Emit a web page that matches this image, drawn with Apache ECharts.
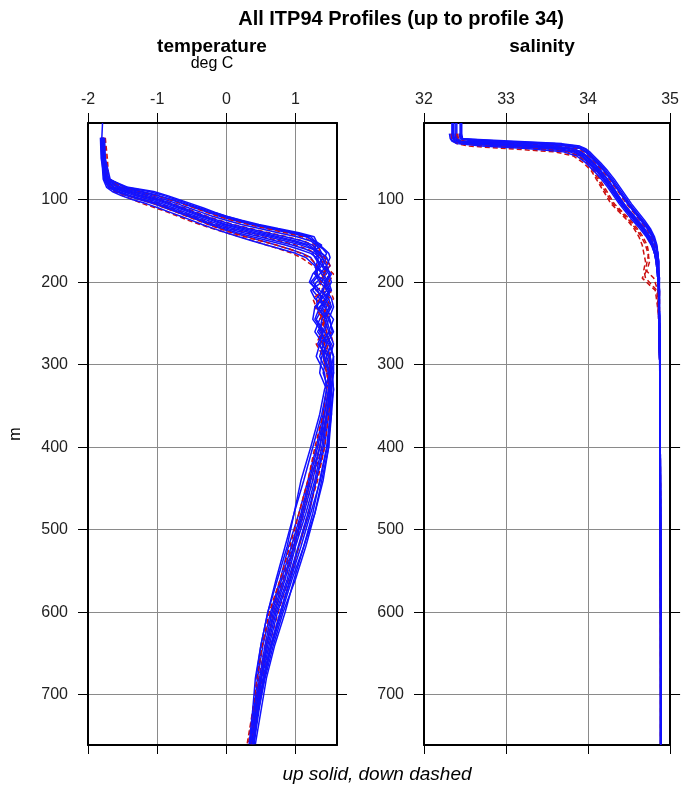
<!DOCTYPE html>
<html><head><meta charset="utf-8">
<script src="https://cdn.jsdelivr.net/npm/echarts@6/dist/echarts.min.js"></script>
<style>html,body{margin:0;padding:0;background:#fff}#c{width:682px;height:792px}</style>
</head><body><div id="c"></div>
<script>
// ---------- data ----------
var depthT = [7,25,50,75,85,90,95,100,105,110,115,120,125,130,135,140,145,150,155,160,165,170,180,190,200,210,220,230,245,260,275,290,310,330,360,400,440,480,520,560,600,640,680,720,760];
var depthS = [7,20,26,29,32,35,38,42,47,55,65,75,85,95,105,115,125,135,145,155,165,175,185,195,210,240,280,320,400,500,600,700,760];
var tempTicks = [-2,-1,0,1];
var salTicks = [32,33,34,35];
var depthTicks = [100,200,300,400,500,600,700];

var tempUp = [
 [null,-1.80,-1.79,-1.70,-1.42,-1.05,-0.85,-0.68,-0.50,-0.33,-0.17,0.00,0.22,0.47,0.75,1.05,1.27,1.30,1.32,1.40,1.45,1.42,1.38,1.45,1.30,1.25,1.35,1.48,1.42,1.32,1.45,1.50,1.48,1.52,1.48,1.42,1.30,1.20,1.05,0.92,0.78,0.65,0.55,0.47,0.40],
 [null,-1.78,-1.77,-1.72,-1.52,-1.25,-1.00,-0.80,-0.62,-0.45,-0.28,-0.10,0.10,0.35,0.60,0.90,1.15,1.28,1.30,1.35,1.38,1.45,1.50,1.40,1.48,1.52,1.42,1.38,1.50,1.53,1.40,1.45,1.52,1.55,1.50,1.45,1.35,1.25,1.12,0.98,0.85,0.70,0.58,0.50,0.42],
 [-1.79,-1.80,-1.80,-1.74,-1.62,-1.42,-1.22,-0.99,-0.82,-0.66,-0.50,-0.34,-0.17,0.00,0.25,0.50,0.75,1.00,1.20,1.28,1.30,1.33,1.30,1.42,1.38,1.22,1.28,1.45,1.35,1.28,1.40,1.35,1.46,1.50,1.45,1.35,1.22,1.10,0.97,0.83,0.68,0.58,0.50,0.42,0.36],
 [null,-1.82,-1.81,-1.76,-1.66,-1.50,-1.32,-1.10,-0.92,-0.76,-0.60,-0.44,-0.27,-0.10,0.10,0.35,0.60,0.85,1.08,1.25,1.32,1.38,1.45,1.35,1.25,1.35,1.48,1.40,1.30,1.42,1.52,1.45,1.40,1.48,1.52,1.48,1.40,1.28,1.15,1.00,0.82,0.68,0.56,0.46,0.38],
 [null,-1.79,-1.78,-1.77,-1.70,-1.60,-1.45,-1.25,-1.05,-0.88,-0.72,-0.56,-0.40,-0.25,-0.08,0.10,0.30,0.52,0.72,0.92,1.10,1.22,1.30,1.38,1.45,1.40,1.30,1.32,1.45,1.50,1.35,1.30,1.42,1.45,1.40,1.30,1.18,1.05,0.90,0.78,0.64,0.53,0.45,0.40,0.34],
 [null,-1.81,-1.80,-1.78,-1.73,-1.65,-1.52,-1.35,-1.15,-0.98,-0.82,-0.66,-0.50,-0.35,-0.18,0.00,0.18,0.38,0.58,0.80,1.00,1.15,1.28,1.32,1.22,1.30,1.42,1.50,1.38,1.35,1.48,1.55,1.50,1.42,1.35,1.22,1.08,0.98,0.85,0.72,0.60,0.50,0.43,null,null],
 [null,-1.76,-1.75,-1.68,-1.48,-1.22,-0.98,-0.78,-0.60,-0.42,-0.25,-0.05,0.15,0.40,0.68,0.95,1.18,1.25,1.35,1.42,1.48,1.50,1.45,1.50,1.42,1.45,1.52,1.55,1.48,1.42,1.50,1.55,1.55,1.52,1.50,1.48,1.38,1.28,1.12,0.95,0.80,0.66,0.54,0.45,0.40],
 [null,-1.80,-1.78,-1.73,-1.58,-1.38,-1.15,-0.95,-0.78,-0.62,-0.46,-0.30,-0.12,0.08,0.32,0.58,0.85,1.10,1.25,1.30,1.25,1.28,1.35,1.25,1.20,1.32,1.38,1.28,1.25,1.38,1.45,1.38,1.35,1.45,1.38,1.25,1.12,0.98,0.88,0.74,0.60,0.50,0.42,0.38,0.33],
 [null,-1.79,-1.79,-1.75,-1.68,-1.55,-1.38,-1.18,-0.98,-0.82,-0.66,-0.50,-0.34,-0.18,0.02,0.25,0.48,0.72,0.95,1.15,1.28,1.35,1.40,1.48,1.52,1.45,1.35,1.42,1.55,1.48,1.38,1.50,1.55,1.50,1.45,1.38,1.28,1.15,1.00,0.88,0.72,0.60,0.50,0.43,0.37],
 [null,-1.78,-1.77,-1.70,-1.45,-1.12,-0.90,-0.72,-0.55,-0.38,-0.20,0.00,0.20,0.42,0.70,1.00,1.22,1.28,1.38,1.30,1.35,1.40,1.32,1.28,1.35,1.48,1.45,1.35,1.28,1.40,1.35,1.42,1.50,1.48,1.42,1.35,1.25,1.12,0.98,0.85,0.70,0.58,0.50,0.44,0.38],
 [null,-1.81,-1.80,-1.75,-1.64,-1.46,-1.26,-1.04,-0.86,-0.70,-0.54,-0.38,-0.21,-0.04,0.18,0.42,0.68,0.94,1.15,1.26,1.35,1.30,1.38,1.28,1.45,1.50,1.38,1.30,1.45,1.40,1.32,1.48,1.52,1.48,1.42,1.32,1.20,1.08,0.94,0.80,0.66,0.56,0.48,0.41,0.35],
 [null,-1.77,-1.76,-1.71,-1.55,-1.32,-1.08,-0.88,-0.70,-0.54,-0.37,-0.20,0.00,0.22,0.48,0.75,1.02,1.22,1.30,1.28,1.38,1.45,1.40,1.52,1.45,1.38,1.48,1.52,1.42,1.48,1.55,1.50,1.53,1.55,1.52,1.46,1.36,1.22,1.08,0.93,0.78,0.64,0.53,0.46,0.39],
 [null,-1.80,-1.79,-1.77,-1.70,-1.58,-1.42,-1.22,-1.02,-0.86,-0.70,-0.54,-0.38,-0.22,-0.04,0.16,0.38,0.62,0.85,1.05,1.22,1.30,1.35,1.28,1.40,1.50,1.45,1.35,1.48,1.55,1.45,1.40,1.48,1.52,1.46,1.40,1.30,1.18,1.04,0.90,0.74,0.62,0.51,0.44,0.38]
];
var tempDown = [
 [null,-1.78,-1.77,-1.75,-1.70,-1.62,-1.50,-1.35,-1.20,-1.02,-0.85,-0.70,-0.55,-0.38,-0.20,0.00,0.20,0.40,0.58,0.78,0.95,1.08,1.25,1.45,1.50,1.40,1.25,1.30,1.42,1.38,1.30,1.40,1.45,1.50,1.45,1.35,1.22,1.10,0.95,0.80,0.65,0.52,0.45,0.38,0.30],
 [null,-1.76,-1.74,-1.72,-1.62,-1.48,-1.30,-1.12,-0.95,-0.80,-0.64,-0.48,-0.32,-0.15,0.05,0.28,0.52,0.78,1.00,1.18,1.28,1.35,1.42,1.55,1.48,1.30,1.38,1.50,1.45,1.35,1.42,1.48,1.52,1.48,1.42,1.32,1.20,1.08,0.95,0.82,0.66,0.56,0.47,0.40,0.35],
 [null,-1.75,-1.72,-1.70,-1.56,-1.36,-1.14,-0.94,-0.76,-0.60,-0.44,-0.28,-0.10,0.10,0.35,0.62,0.88,1.12,1.25,1.30,1.35,1.42,1.50,1.38,1.42,1.50,1.55,1.45,1.38,1.50,1.55,1.48,1.50,1.52,1.48,1.42,1.32,1.18,1.05,0.90,0.75,0.62,0.52,0.45,0.38],
 [null,-1.77,-1.76,-1.69,-1.50,-1.25,-1.02,-0.82,-0.64,-0.46,-0.30,-0.12,0.08,0.32,0.58,0.85,1.10,1.22,1.28,1.35,1.32,1.40,1.48,1.42,1.35,1.40,1.50,1.45,1.35,1.45,1.48,1.40,1.45,1.50,1.45,1.38,1.25,1.12,1.00,0.85,0.70,0.58,0.48,0.42,0.36],
 [null,-1.78,-1.77,-1.74,-1.68,-1.58,-1.42,-1.22,-1.04,-0.88,-0.72,-0.57,-0.42,-0.26,-0.10,0.08,0.28,0.50,0.72,0.92,1.08,1.20,1.32,1.30,1.38,1.45,1.35,1.28,1.40,1.45,1.35,1.42,1.48,1.45,1.40,1.28,1.18,1.05,0.92,0.78,0.62,0.52,0.44,0.38,0.32]
];
var salUp = [
 [32.46,32.46,32.47,33.10,33.68,33.90,33.97,34.02,34.07,34.15,34.24,34.32,34.39,34.46,34.53,34.61,34.69,34.76,34.81,34.84,34.85,34.86,34.86,34.86,34.87,34.86,34.87,34.88,34.88,34.88,34.885,34.885,34.885],
 [null,32.44,32.45,32.80,33.45,33.80,33.92,33.98,34.03,34.11,34.20,34.28,34.35,34.42,34.49,34.57,34.65,34.73,34.79,34.83,34.85,34.86,34.86,34.87,34.86,34.87,34.87,34.88,34.88,34.885,34.885,34.885,34.885],
 [32.40,32.40,32.41,32.45,33.00,33.55,33.82,33.92,33.99,34.07,34.16,34.24,34.31,34.37,34.44,34.52,34.60,34.68,34.75,34.79,34.82,34.84,34.85,34.855,34.86,34.865,34.87,34.875,34.88,34.882,34.884,34.885,34.885],
 [32.36,32.36,32.37,32.40,32.75,33.35,33.72,33.88,33.96,34.04,34.13,34.21,34.28,34.35,34.42,34.50,34.58,34.67,34.74,34.79,34.82,34.84,34.85,34.86,34.86,34.87,34.87,34.88,34.88,34.88,34.885,34.885,34.885],
 [null,32.33,32.33,32.35,32.45,32.90,33.45,33.78,33.90,34.00,34.10,34.18,34.26,34.33,34.40,34.48,34.56,34.65,34.72,34.78,34.81,34.83,34.84,34.85,34.86,34.87,34.87,34.88,34.88,34.883,34.884,34.885,34.885],
 [null,32.31,32.32,32.34,32.40,32.70,33.25,33.70,33.86,33.97,34.07,34.16,34.24,34.31,34.38,34.46,34.54,34.63,34.71,34.77,34.81,34.83,34.84,34.85,34.86,34.86,34.87,34.88,34.88,34.88,34.884,34.885,null],
 [32.45,32.45,32.46,32.95,33.60,33.86,33.95,34.00,34.05,34.13,34.22,34.30,34.37,34.44,34.51,34.59,34.67,34.75,34.80,34.83,34.85,34.86,34.86,34.87,34.87,34.87,34.88,34.88,34.88,34.885,34.885,34.885,34.885],
 [null,32.38,32.39,32.42,32.90,33.50,33.80,33.91,33.98,34.06,34.15,34.23,34.30,34.36,34.43,34.51,34.59,34.67,34.74,34.79,34.82,34.84,34.85,34.86,34.86,34.87,34.87,34.88,34.88,34.88,34.884,34.885,34.885],
 [32.35,32.35,32.36,32.38,32.60,33.20,33.65,33.85,33.94,34.02,34.12,34.20,34.27,34.34,34.41,34.49,34.57,34.66,34.73,34.78,34.82,34.84,34.85,34.86,34.86,34.87,34.87,34.88,34.88,34.883,34.885,34.885,34.885],
 [null,32.43,32.44,32.60,33.30,33.75,33.90,33.97,34.02,34.10,34.19,34.27,34.34,34.41,34.48,34.56,34.64,34.72,34.78,34.82,34.84,34.85,34.86,34.86,34.87,34.87,34.88,34.88,34.88,34.885,34.885,34.885,34.885],
 [32.38,32.38,32.39,32.43,32.95,33.52,33.80,33.91,33.98,34.06,34.15,34.23,34.30,34.37,34.44,34.52,34.61,34.69,34.76,34.80,34.83,34.85,34.85,34.86,34.86,34.87,34.87,34.88,34.88,34.884,34.885,34.885,34.885],
 [32.44,32.44,32.45,32.70,33.40,33.78,33.91,33.97,34.03,34.11,34.20,34.28,34.35,34.42,34.50,34.58,34.66,34.74,34.80,34.83,34.85,34.86,34.86,34.86,34.87,34.87,34.88,34.88,34.88,34.885,34.885,34.885,34.885],
 [32.34,32.34,32.35,32.37,32.50,33.05,33.55,33.82,33.92,34.01,34.11,34.19,34.26,34.33,34.40,34.48,34.57,34.66,34.73,34.78,34.81,34.83,34.84,34.85,34.86,34.86,34.87,34.88,34.88,34.883,34.884,34.885,34.885]
];
var salDown = [
 [null,32.34,32.35,32.36,32.40,32.55,33.00,33.60,33.82,33.94,34.04,34.10,34.16,34.22,34.28,34.38,34.48,34.56,34.62,34.66,34.68,34.70,34.68,34.70,34.84,34.86,34.87,34.88,34.88,34.88,34.884,34.885,34.885],
 [null,32.36,32.37,32.39,32.55,33.15,33.62,33.84,33.93,34.02,34.08,34.14,34.20,34.26,34.32,34.42,34.52,34.60,34.67,34.72,34.74,34.72,34.70,34.80,34.85,34.86,34.87,34.88,34.88,34.883,34.884,34.885,34.885],
 [null,32.39,32.40,32.43,32.85,33.45,33.78,33.90,33.97,34.05,34.14,34.22,34.29,34.36,34.43,34.51,34.59,34.67,34.74,34.79,34.81,34.83,34.84,34.85,34.86,34.86,34.87,34.88,34.88,34.88,34.884,34.885,34.885],
 [null,32.41,32.42,32.50,33.15,33.65,33.87,33.95,34.01,34.09,34.18,34.26,34.33,34.40,34.47,34.55,34.63,34.71,34.77,34.81,34.83,34.85,34.86,34.86,34.87,34.87,34.88,34.88,34.88,34.885,34.885,34.885,34.885],
 [null,32.33,32.34,32.36,32.45,32.80,33.35,33.75,33.88,33.98,34.06,34.12,34.18,34.24,34.30,34.40,34.50,34.58,34.65,34.70,34.73,34.75,34.72,34.66,34.82,34.86,34.87,34.88,34.88,34.88,34.884,34.885,34.885]
];

// ---------- chart ----------
var FONT = '"Liberation Sans", Arial, Helvetica, sans-serif';
var BLUE = '#1212ff', RED = '#cc1010', GRID = '#8a8a8a';
var G = [{left:88, top:123, width:249, height:622},{left:424, top:123, width:249, height:622}];

function pairs(vals, depths){
  var out = [];
  for (var i=0;i<depths.length;i++){ if (vals[i]!==null && vals[i]!==undefined) out.push([vals[i], depths[i]]); }
  return out;
}
function xAxes(gi, mn, mx, ticks){
  return [{
    gridIndex:gi, type:'value', position:'top', min:mn, max:mx,
    axisLine:{show:true, onZero:false, lineStyle:{color:'#000', width:2}},
    axisTick:{show:true, inside:false, length:10, customValues:ticks, lineStyle:{color:'#000', width:1}},
    axisLabel:{show:true, margin:15, fontSize:16, color:'#222', fontFamily:FONT, customValues:ticks},
    splitLine:{show:true, lineStyle:{color:GRID, width:1}}
  },{
    gridIndex:gi, type:'value', position:'bottom', min:mn, max:mx,
    axisLine:{show:true, onZero:false, lineStyle:{color:'#000', width:2}},
    axisTick:{show:true, inside:false, length:9, customValues:ticks, lineStyle:{color:'#000', width:1}},
    axisLabel:{show:false}, splitLine:{show:false}
  }];
}
function yAxes(gi, showLabels){
  return [{
    gridIndex:gi, type:'value', position:'left', inverse:true, min:7, max:761,
    axisLine:{show:true, onZero:false, lineStyle:{color:'#000', width:2}},
    axisTick:{show:true, inside:false, length:10, customValues:depthTicks, lineStyle:{color:'#000', width:1}},
    axisLabel:{show:showLabels, margin:20, fontSize:16, color:'#222', fontFamily:FONT, customValues:depthTicks},
    splitLine:{show:true, lineStyle:{color:GRID, width:1}}
  },{
    gridIndex:gi, type:'value', position:'right', inverse:true, min:7, max:761,
    axisLine:{show:true, onZero:false, lineStyle:{color:'#000', width:2}},
    axisTick:{show:true, inside:false, length:10, customValues:depthTicks, lineStyle:{color:'#000', width:1}},
    axisLabel:{show:false}, splitLine:{show:false}
  }];
}

var series = [];
function mk(p, depths, xi, yi, dashed){
  return {
    type:'line', xAxisIndex:xi, yAxisIndex:yi, data:pairs(p, depths),
    showSymbol:false, symbol:'none', clip:true, silent:true, z:3,
    lineStyle:{color: dashed ? RED : BLUE, width:1.5, type: dashed ? [5,3] : 'solid'}
  };
}
// interleave up (solid) and down (dashed) profiles, as drawn in time order
function addPanel(upList, downList, depths, xi, yi){
  var n = Math.max(upList.length, downList.length);
  for (var i=0;i<n;i++){
    if (i < upList.length) series.push(mk(upList[i], depths, xi, yi, false));
    if (i < downList.length && i % 1 === 0 && i*2+1 < n) series.push(mk(downList[i], depths, xi, yi, true));
  }
  for (var j=0;j<downList.length;j++){
    if (!(j*2+1 < n)) series.push(mk(downList[j], depths, xi, yi, true));
  }
}
addPanel(tempUp, tempDown, depthT, 0, 0);
addPanel(salUp, salDown, depthS, 2, 2);

var chart = echarts.init(document.getElementById('c'), null, {renderer:'canvas'});
chart.setOption({
  animation:false,
  backgroundColor:'#fff',
  grid:G,
  xAxis: xAxes(0,-2,1.6,tempTicks).concat(xAxes(1,32,35,salTicks)),
  yAxis: yAxes(0,true).concat(yAxes(1,true)),
  series: series,
  graphic:[
    {type:'text', x:401, y:19, style:{text:'All ITP94 Profiles (up to profile 34)', font:'bold 20px '+FONT, fill:'#000', textAlign:'center', textVerticalAlign:'middle'}},
    {type:'text', x:212, y:47, style:{text:'temperature', font:'bold 19px '+FONT, fill:'#000', textAlign:'center', textVerticalAlign:'middle'}},
    {type:'text', x:212, y:64, style:{text:'deg C', font:'16px '+FONT, fill:'#000', textAlign:'center', textVerticalAlign:'middle'}},
    {type:'text', x:542, y:47, style:{text:'salinity', font:'bold 19px '+FONT, fill:'#000', textAlign:'center', textVerticalAlign:'middle'}},
    {type:'text', x:377, y:775, style:{text:'up solid, down dashed', font:'italic 19px '+FONT, fill:'#000', textAlign:'center', textVerticalAlign:'middle'}},
    {type:'text', x:16, y:434, rotation:Math.PI/2, style:{text:'m', font:'16px '+FONT, fill:'#000', textAlign:'center', textVerticalAlign:'middle'}}
  ]
});
</script></body></html>
